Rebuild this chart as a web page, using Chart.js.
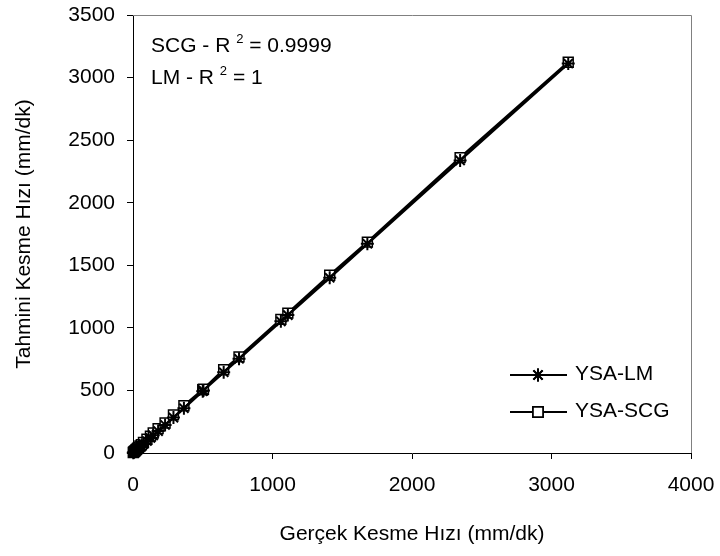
<!DOCTYPE html>
<html>
<head>
<meta charset="utf-8">
<script src="https://cdn.jsdelivr.net/npm/chart.js@4/dist/chart.umd.min.js"></script>
<style>
  html, body { margin: 0; padding: 0; background: #fff; }
</style>
</head>
<body>
<canvas id="chart" width="720" height="556"></canvas>
<script>
// Gerçek (actual) cutting speed and network predictions
const actualSpeed = [2, 6, 10, 15, 20, 26, 33, 40, 50, 60, 75, 100, 125, 145, 180, 230, 290, 365, 500, 505, 650, 760, 1060, 1110, 1410, 1680, 2345, 3120];
const lmPred =      [2, 5, 9, 14, 19, 25, 32, 38, 48, 57, 72, 96, 120, 141, 175, 224, 283, 358, 494, 500, 645, 753, 1052, 1102, 1400, 1672, 2338, 3112];
const scgPred =     [4, 8, 13, 18, 24, 30, 38, 45, 56, 66, 84, 110, 135, 160, 195, 240, 305, 378, 505, 510, 665, 768, 1068, 1118, 1420, 1685, 2360, 3122];
const seriesNames = ['YSA-LM', 'YSA-SCG'];
const xTicks = [0, 1000, 2000, 3000, 4000];
const yTicks = [0, 500, 1000, 1500, 2000, 2500, 3000, 3500];
const r2Lines = [['SCG - R ', '2', ' = 0.9999'], ['LM - R ', '2', ' = 1']];

const FONT = "'Liberation Sans', Arial, sans-serif";

function toPoints(ys) {
    return actualSpeed.map((x, i) => ({ x: x, y: ys[i] }));
}

// gray frame on top/right, R² text and the legend drawn inside the plot
const extras = {
    id: 'extras',
    afterDraw(chart) {
        const ctx = chart.ctx;
        const a = chart.chartArea;
        ctx.save();
        ctx.strokeStyle = '#808080';
        ctx.lineWidth = 1;
        ctx.beginPath();
        ctx.moveTo(a.left, a.top + 0.5);
        ctx.lineTo(a.right + 0.5, a.top + 0.5);
        ctx.lineTo(a.right + 0.5, a.bottom);
        ctx.stroke();

        // R² annotation
        ctx.fillStyle = '#000';
        ctx.textBaseline = 'alphabetic';
        r2Lines.forEach((parts, i) => {
            let x = 151;
            const y = 52 + i * 32;
            ctx.font = '21px ' + FONT;
            ctx.fillText(parts[0], x, y);
            x += ctx.measureText(parts[0]).width;
            ctx.font = '13px ' + FONT;
            ctx.fillText(parts[1], x, y - 9);
            x += ctx.measureText(parts[1]).width;
            ctx.font = '21px ' + FONT;
            ctx.fillText(parts[2], x, y);
        });

        // legend: line with marker, then label
        const rows = [375, 412];
        chart.data.datasets.forEach((ds, i) => {
            const y = rows[i];
            ctx.strokeStyle = '#000';
            ctx.lineWidth = 2;
            ctx.beginPath();
            ctx.moveTo(510, y);
            ctx.lineTo(567, y);
            ctx.stroke();
            Chart.helpers.drawPoint(ctx, {
                pointStyle: ds.pointStyle,
                radius: ds.pointRadius,
                borderWidth: ds.pointBorderWidth
            }, 538, y);
            if (ds.pointStyle === 'rect') {
                ctx.fillStyle = '#fff';
                ctx.fill();
            }
            ctx.lineWidth = ds.pointBorderWidth;
            ctx.stroke();
            ctx.fillStyle = '#000';
            ctx.font = '21px ' + FONT;
            ctx.textBaseline = 'middle';
            ctx.fillText(ds.label, 575, y - 1);
        });
        ctx.restore();
    }
};

new Chart(document.getElementById('chart').getContext('2d'), {
    type: 'line',
    data: {
        datasets: [{
            label: seriesNames[0],
            data: toPoints(lmPred),
            borderColor: '#000',
            borderWidth: 2.5,
            pointStyle: 'star',
            pointRadius: 6.5,
            pointBorderWidth: 2,
            pointBorderColor: '#000',
            pointBackgroundColor: 'rgba(0,0,0,0)',
            tension: 0,
            fill: false
        }, {
            label: seriesNames[1],
            data: toPoints(scgPred),
            borderColor: '#000',
            borderWidth: 2.5,
            pointStyle: 'rect',
            pointRadius: 7,
            pointBorderWidth: 1.5,
            pointBorderColor: '#000',
            pointBackgroundColor: '#fff',
            tension: 0,
            fill: false
        }]
    },
    options: {
        responsive: false,
        animation: false,
        clip: false,
        layout: { padding: { top: 15, right: 29, left: 0, bottom: 0 } },
        scales: {
            x: {
                type: 'linear',
                min: 0, max: 4000,
                afterBuildTicks: s => { s.ticks = xTicks.map(v => ({ value: v })); },
                afterFit: s => { s.height = 103; s.paddingLeft = 0; s.paddingRight = 0; },
                grid: { drawOnChartArea: false, tickLength: 6, color: '#000' },
                border: { color: '#000', width: 1 },
                ticks: { color: '#000', font: { family: FONT, size: 21 }, padding: 14, maxRotation: 0, callback: v => String(v) },
                title: { display: true, text: 'Gerçek Kesme Hızı (mm/dk)', color: '#000', font: { family: FONT, size: 21 }, padding: { top: 0, bottom: 9 } }
            },
            y: {
                type: 'linear',
                min: 0, max: 3500,
                afterBuildTicks: s => { s.ticks = yTicks.map(v => ({ value: v })); },
                afterFit: s => { s.width = 133; s.paddingTop = 0; s.paddingBottom = 0; },
                grid: { drawOnChartArea: false, tickLength: 6, color: '#000' },
                border: { color: '#000', width: 1 },
                ticks: { color: '#000', font: { family: FONT, size: 21 }, padding: 12, callback: v => String(v) },
                title: { display: true, text: 'Tahmini Kesme Hızı (mm/dk)', color: '#000', font: { family: FONT, size: 21 }, padding: { top: 12, bottom: 0 } }
            }
        },
        plugins: {
            legend: { display: false },
            tooltip: { enabled: false }
        }
    },
    plugins: [extras]
});
</script>
</body>
</html>
